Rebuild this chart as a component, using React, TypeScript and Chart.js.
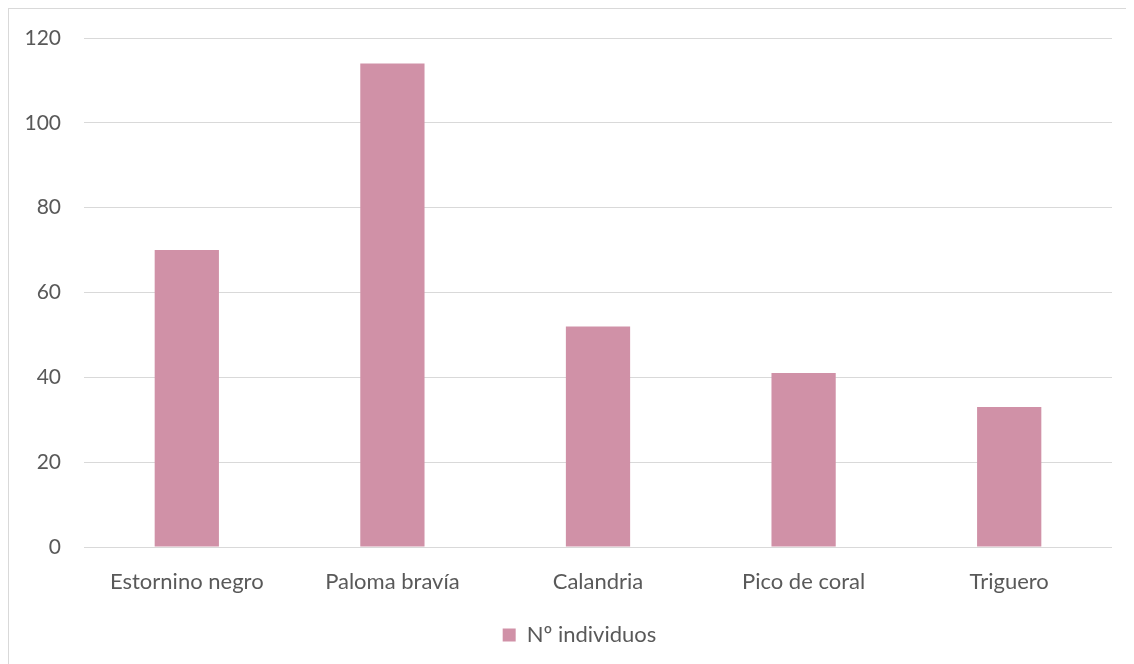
import React, { useEffect, useRef } from "react";
import { Chart, registerables } from "chart.js";

Chart.register(...registerables);

const categories = ["Estornino negro", "Paloma bravía", "Calandria", "Pico de coral", "Triguero"];
const individuos = [70, 114, 52, 41, 33];
const seriesLabel = "Nº individuos";
const yTicks = [0, 20, 40, 60, 80, 100, 120];

const BAR_COLOR = "#D091A7";
const TEXT_COLOR = "#595959";
const GRID_COLOR = "#D9D9D9";
const FONT = "Lato, 'Open Sans', sans-serif";

// Nudges the bottom legend to the right so it sits under the plot area's middle.
const legendShift = {
  id: "legendShift",
  afterLayout(chart: any) {
    const lg = chart.legend;
    if (lg) {
      lg.left += 19;
      lg.right += 19;
    }
  },
};

export default function App() {
  const canvasRef = useRef<HTMLCanvasElement | null>(null);

  useEffect(() => {
    if (!canvasRef.current) return;
    const chart = new Chart(canvasRef.current, {
      type: "bar",
      data: {
        labels: categories,
        datasets: [
          {
            label: seriesLabel,
            data: individuos,
            backgroundColor: BAR_COLOR,
            borderWidth: 0,
            barPercentage: 0.3125,
            categoryPercentage: 1,
          },
        ],
      },
      plugins: [legendShift],
      options: {
        responsive: false,
        animation: false,
        layout: { padding: { top: 29, right: 22, left: 0, bottom: 8 } },
        plugins: {
          tooltip: { enabled: false },
          legend: {
            position: "bottom",
            labels: {
              color: TEXT_COLOR,
              font: { family: FONT, size: 22 },
              boxWidth: 13,
              boxHeight: 13,
              padding: 10,
            },
          },
        },
        scales: {
          x: {
            grid: { display: false },
            border: { display: false },
            ticks: {
              color: TEXT_COLOR,
              font: { family: FONT, size: 22 },
              padding: 14,
              maxRotation: 0,
            },
            afterFit: (scale: any) => {
              scale.height = 67;
            },
          },
          y: {
            min: 0,
            max: 120,
            afterBuildTicks: (scale: any) => {
              scale.ticks = yTicks.map((v) => ({ value: v }));
            },
            grid: { color: GRID_COLOR, lineWidth: 1, drawTicks: false },
            border: { display: false },
            ticks: {
              color: TEXT_COLOR,
              font: { family: FONT, size: 21 },
              padding: 23,
            },
            afterFit: (scale: any) => {
              scale.width = 75;
              scale.paddingTop = 0;
              scale.paddingBottom = 0;
            },
          },
        },
      },
    });
    return () => chart.destroy();
  }, []);

  return (
    <div
      style={{
        width: 1126,
        height: 656,
        borderTop: `1px solid ${GRID_COLOR}`,
        borderLeft: `1px solid ${GRID_COLOR}`,
        boxSizing: "border-box",
        overflow: "hidden",
        background: "#fff",
      }}
    >
      <canvas ref={canvasRef} width={1125} height={655} style={{ display: "block" }} />
    </div>
  );
}
